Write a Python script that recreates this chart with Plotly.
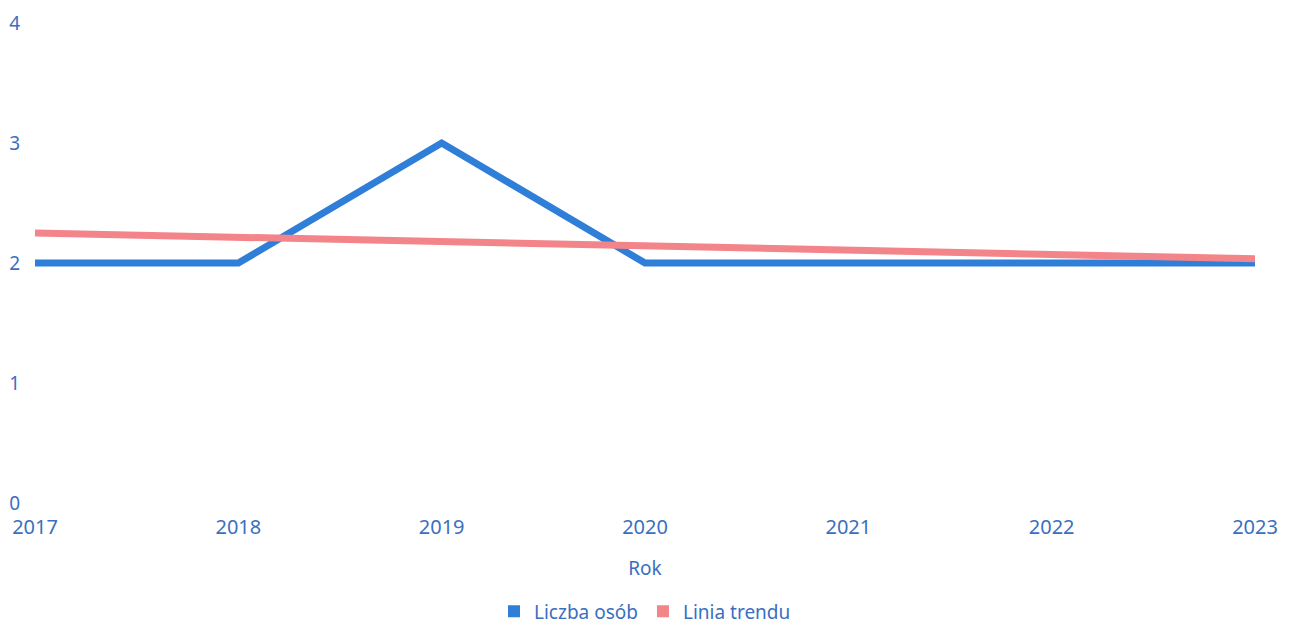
import plotly.graph_objects as go

years = [2017, 2018, 2019, 2020, 2021, 2022, 2023]
liczba_osob = [2, 2, 3, 2, 2, 2, 2]
linia_trendu = [2.25, 2.214, 2.179, 2.143, 2.107, 2.071, 2.036]
y_ticks = [0, 1, 2, 3, 4]
series_names = ["Liczba osób", "Linia trendu"]
series_colors = ["#2f7ed8", "#f2848a"]

text_color = "#3a6fc0"
font_family = "Noto Sans, Open Sans, DejaVu Sans, sans-serif"

fig = go.Figure()
for name, vals, col in zip(series_names, [liczba_osob, linia_trendu], series_colors):
    fig.add_trace(go.Scatter(x=years, y=vals, mode="lines", name=name,
                             line=dict(color=col, width=7), showlegend=False,
                             legendgroup=name))
# legend entries with small rectangle markers
for name, col in zip(series_names, series_colors):
    fig.add_trace(go.Scatter(x=[None], y=[None], mode="markers", name=name,
                             marker=dict(color=col, symbol="square", size=12),
                             legendgroup=name, showlegend=True))

fig.update_layout(
    width=1274, height=616,
    paper_bgcolor="white", plot_bgcolor="white",
    margin=dict(l=27, r=27, t=15, b=121, autoexpand=False),
    font=dict(family=font_family, color=text_color, size=20),
    xaxis=dict(range=[2017, 2023], tickvals=years, ticktext=[str(y) for y in years],
               showgrid=False, zeroline=False, showline=False, ticks="",
               ticklabelstandoff=10, ticklabeloverflow="allow",
               title=dict(text="Rok", font=dict(size=19, color=text_color), standoff=22),
               tickfont=dict(size=20, color=text_color)),
    yaxis=dict(range=[0, 4], tickvals=y_ticks, showgrid=False, zeroline=False,
               showline=False, ticks="", ticklabelstandoff=14,
               ticklabeloverflow="allow",
               tickfont=dict(size=19, color=text_color)),
    legend=dict(orientation="h", x=0.5, xanchor="center", y=-0.226, yanchor="middle",
                font=dict(size=19, color=text_color), itemwidth=30,
                tracegroupgap=0),
    showlegend=True,
)

fig.write_html("out.html")
